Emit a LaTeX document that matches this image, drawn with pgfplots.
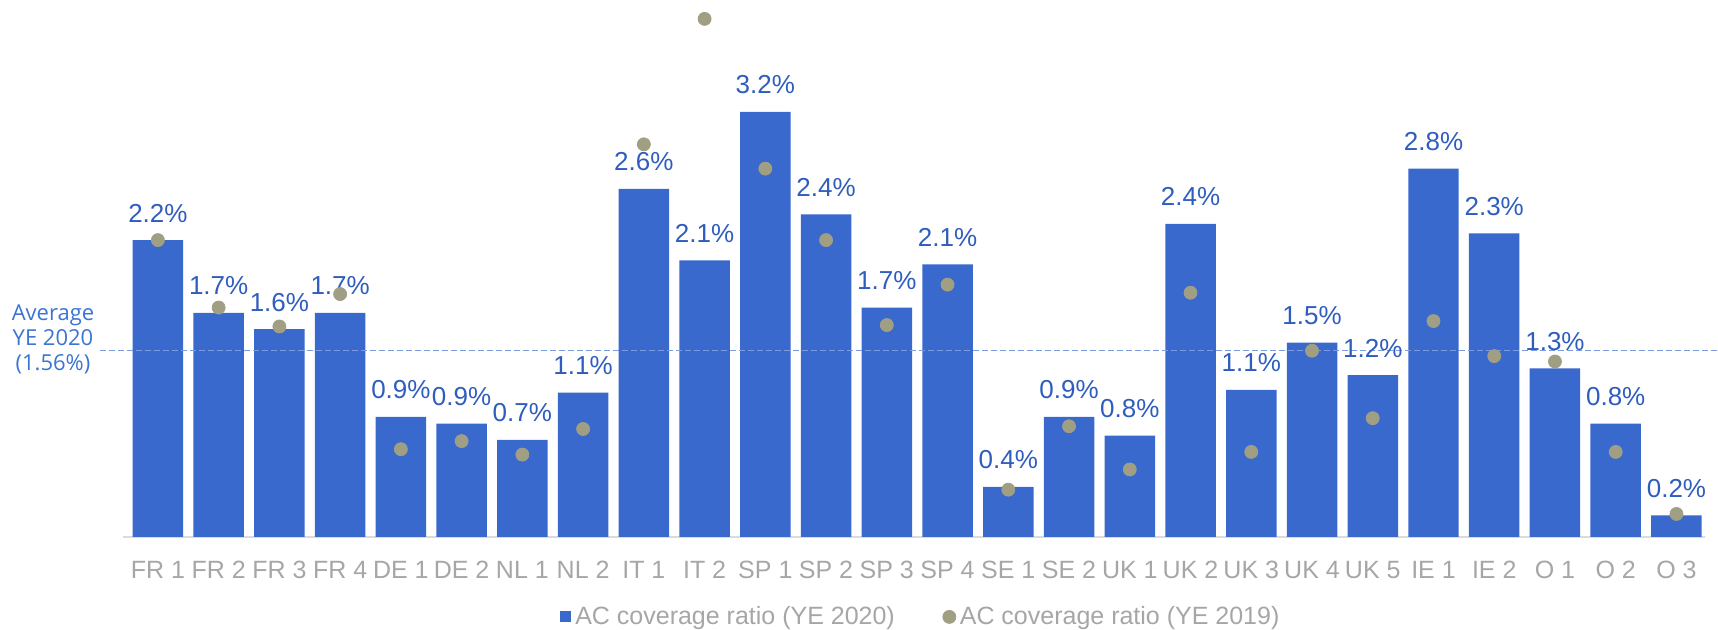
\documentclass[border=0pt]{standalone}
\usepackage{fontspec}
\setmainfont{Liberation Sans}
\newfontfamily\avgfont{Open Sans}
\usepackage{pgfplots}
\pgfplotsset{compat=1.18}
\usepackage{pgfplotstable}

\definecolor{barblue}{HTML}{3A69CD}
\definecolor{lblblue}{HTML}{2F5DBE}
\definecolor{dotgrey}{HTML}{A19F83}
\definecolor{tickgrey}{HTML}{A6A6A6}
\definecolor{avgblue}{HTML}{3B74D1}
\definecolor{lineblue}{HTML}{7C9BE0}

% x  bar (YE 2020)  label  dot (YE 2019)
\pgfplotstableread{
x  bar   lbl  dot
0  2.20  2.2  2.20
1  1.66  1.7  1.70
2  1.54  1.6  1.56
3  1.66  1.7  1.80
4  0.89  0.9  0.65
5  0.84  0.9  0.71
6  0.72  0.7  0.61
7  1.07  1.1  0.80
8  2.58  2.6  2.91
9  2.05  2.1  3.84
10 3.15  3.2  2.73
11 2.39  2.4  2.20
12 1.70  1.7  1.57
13 2.02  2.1  1.87
14 0.37  0.4  0.35
15 0.89  0.9  0.82
16 0.75  0.8  0.50
17 2.32  2.4  1.81
18 1.09  1.1  0.63
19 1.44  1.5  1.38
20 1.20  1.2  0.88
21 2.73  2.8  1.60
22 2.25  2.3  1.34
23 1.25  1.3  1.30
24 0.84  0.8  0.63
25 0.16  0.2  0.17
}\coverage

\begin{document}
\begin{tikzpicture}
\begin{axis}[
    scale only axis,
    width=791.3pt, height=268.5pt,
    xmin=-0.58, xmax=25.47,
    ymin=0, ymax=3.98,
    axis x line*=bottom,
    axis y line=none,
    x axis line style={draw=black!14, line width=1pt},
    xtick={0,...,25},
    xticklabels={FR 1,FR 2,FR 3,FR 4,DE 1,DE 2,NL 1,NL 2,IT 1,IT 2,SP 1,SP 2,SP 3,SP 4,SE 1,SE 2,UK 1,UK 2,UK 3,UK 4,UK 5,IE 1,IE 2,O 1,O 2,O 3},
    major tick length=0pt,
    xticklabel style={font=\fontsize{12.5}{14}\selectfont, text=tickgrey, anchor=base, yshift=-21pt},
    ytick=\empty,
    clip=false,
    legend columns=2,
    legend style={
        at={(0.505,0)}, anchor=center, yshift=-40pt,
        draw=none, fill=none,
        font=\fontsize{12.5}{14}\selectfont, text=tickgrey,
        /tikz/every even column/.style={column sep=22pt},
    },
]
\addplot[
    ybar, bar width=25.25pt, fill=barblue, draw=none,
    point meta=explicit symbolic,
    nodes near coords={\pgfplotspointmeta\%},
    every node near coord/.append style={font=\fontsize{13}{15}\selectfont, text=lblblue, anchor=base, yshift=9pt},
    legend image code/.code={\fill[barblue] (0pt,-2.8pt) rectangle (5.6pt,2.8pt);},
] table[x=x, y=bar, meta=lbl] {\coverage};
\addlegendentry{AC coverage ratio (YE 2020)}

\addplot[
    only marks, mark=*, mark size=3.25pt, color=dotgrey,
] table[x=x, y=dot] {\coverage};
\addlegendentry{AC coverage ratio (YE 2019)}

\draw[lineblue, line width=0.5pt, dash pattern=on 3pt off 1.5pt]
    ([xshift=-11.35pt]axis cs:-0.58,1.38) -- ([xshift=6.5pt]axis cs:25.47,1.38);
\node[align=center, font=\avgfont\fontsize{11}{12.5}\selectfont, text=avgblue]
    at ([xshift=-34.85pt]axis cs:-0.58,1.462) {Average\\YE 2020\\(1.56\%)};
\end{axis}
\pgfresetboundingbox
\path[use as bounding box] (-61.35pt,-46.5pt) rectangle (797.8pt,268.5pt);
\end{tikzpicture}
\end{document}
